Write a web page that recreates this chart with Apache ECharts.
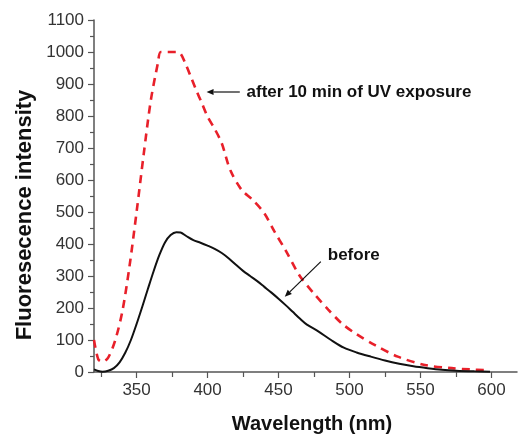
<!DOCTYPE html>
<html><head><meta charset="utf-8">
<script src="https://cdn.jsdelivr.net/npm/echarts@6/dist/echarts.min.js"></script>
<style>html,body{margin:0;padding:0;background:#fff}#c{width:518px;height:437px}</style>
</head><body><div id="c"></div>
<script>
// after 10 min of UV exposure (red dashed)
const afterWl  = [320,323,326,330,335,340,345,350,355,360,365,367,372,378,381,384,388,392,396,400,405,410,416,424,432,440,447,455,465,475,485,495,505,518,534,553,572,585,596];
const afterVal = [100,40,32,45,100,190,330,500,680,848,965,1000,1000,1000,995,968,925,881,840,798,760,715,631,569,537,496,440,380,300,245,195,150,118,84,48,22,12,8,6];
// before (black solid)
const beforeWl  = [320,323,326,330,334,338,342,346,350,354,358,362,366,370,374,378,381,385,390,395,400,405,410,415,420,425,430,435,440,445,450,455,460,465,470,478,487,496,505,515,525,535,545,555,565,575,588,599];
const beforeVal = [8,3,1,4,12,30,60,100,150,204,260,315,365,405,428,437,436,425,412,404,395,385,372,355,335,316,300,284,266,248,229,209,188,167,148,127,100,76,61,48,36,26,18,12,7,4,2,1];
// axis ticks
const xMajor = [350,400,450,500,550,600];
const xMinor = [325,375,425,475,525,575];
// annotations (data space)
const annAfter = {text:'after 10 min of UV exposure', from:[422.7,875], to:[399.3,875], at:[427.5,875]};
const annBefore = {text:'before', from:[479.8,345], to:[454.4,235], at:[484.7,366]};

const chart = echarts.init(document.getElementById('c'), null, {renderer:'canvas'});
const font = "'Liberation Sans', Arial, sans-serif";
const axisColor = '#555';
const pairs = (xs, ys) => xs.map((x,i)=>[x, ys[i]]);

chart.setOption({
  animation:false,
  backgroundColor:'#fff',
  grid:{left:94, top:20, right:1, bottom:65, containLabel:false},
  xAxis:[{
    type:'value', min:320, max:618,
    axisLine:{show:true, lineStyle:{color:axisColor, width:1.5}},
    axisTick:{show:true, customValues:xMajor, length:6, lineStyle:{color:axisColor, width:1.2}},
    axisLabel:{show:true, customValues:xMajor, color:'#333', fontFamily:font, fontSize:17, margin:10},
    splitLine:{show:false}
  },{
    type:'value', min:320, max:618, position:'bottom',
    axisLine:{show:false},
    axisTick:{show:true, customValues:xMinor, length:5, lineStyle:{color:axisColor, width:1.2}},
    axisLabel:{show:false},
    splitLine:{show:false}
  }],
  yAxis:{
    type:'value', min:0, max:1100, interval:100,
    axisLine:{show:true, lineStyle:{color:axisColor, width:1.5}},
    axisTick:{show:true, length:6, lineStyle:{color:axisColor, width:1.2}},
    minorTick:{show:true, splitNumber:2, length:4, lineStyle:{color:axisColor, width:1.2}},
    axisLabel:{color:'#333', fontFamily:font, fontSize:17, margin:10, formatter:v=>String(v)},
    splitLine:{show:false}
  },
  series:[{
    type:'line', name:'after', data:pairs(afterWl, afterVal), showSymbol:false, smooth:0.3,
    lineStyle:{color:'#e8202a', width:2.6, type:[8,6]}, z:3
  },{
    type:'line', name:'before', data:pairs(beforeWl, beforeVal), showSymbol:false, smooth:0.3,
    lineStyle:{color:'#111', width:2}, z:4
  }]
});

function px(p){ return chart.convertToPixel({xAxisIndex:0, yAxisIndex:0}, p); }
function arrow(a){
  const f = px(a.from), t = px(a.to);
  const ang = Math.atan2(t[1]-f[1], t[0]-f[0]);
  const L = 7, W = 3;
  const bx = t[0]-L*Math.cos(ang), by = t[1]-L*Math.sin(ang);
  const nx = -Math.sin(ang), ny = Math.cos(ang);
  return [
    {type:'line', shape:{x1:f[0], y1:f[1], x2:bx, y2:by}, style:{stroke:'#111', lineWidth:1.2}, z:10},
    {type:'polygon', shape:{points:[[t[0],t[1]],[bx+nx*W,by+ny*W],[bx-nx*W,by-ny*W]]}, style:{fill:'#111'}, z:10}
  ];
}
const ta = px(annAfter.at), tb = px(annBefore.at);
chart.setOption({graphic:[
  ...arrow(annAfter), ...arrow(annBefore),
  {type:'text', x:ta[0], y:ta[1], style:{text:annAfter.text, font:"bold 17px "+font, fill:'#111', verticalAlign:'middle'}, z:10},
  {type:'text', x:tb[0], y:tb[1], style:{text:annBefore.text, font:"bold 17px "+font, fill:'#111', verticalAlign:'middle'}, z:10},
  {type:'text', x:312, y:424, style:{text:'Wavelength (nm)', font:"bold 20px "+font, fill:'#111', align:'center', verticalAlign:'middle'}, z:10},
  {type:'text', x:25, y:215, rotation:Math.PI/2, style:{text:'Fluoresecence intensity', font:"bold 22px "+font, fill:'#111', align:'center', verticalAlign:'middle'}, z:10}
]});
</script></body></html>
